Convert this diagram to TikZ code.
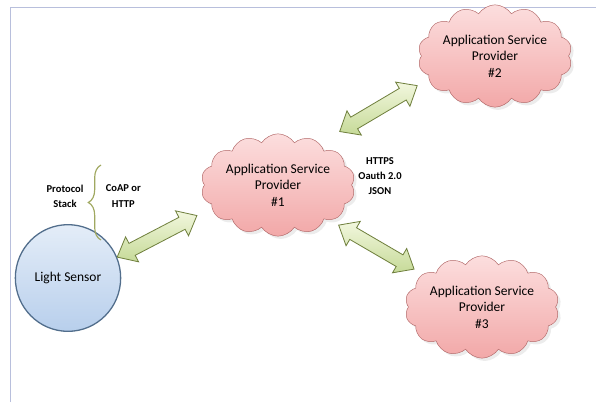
\documentclass[tikz,border=0pt]{standalone}
\usepackage{fontspec}
\setmainfont{Carlito}
\usepackage{tikz}
\usetikzlibrary{shapes.symbols,shapes.geometric,shapes.arrows,decorations.pathreplacing,calc,shadows}

\definecolor{framecol}{RGB}{184,191,220}
\definecolor{cloudtop}{RGB}{252,222,222}
\definecolor{cloudbot}{RGB}{242,168,168}
\definecolor{cloudline}{RGB}{178,104,104}
\definecolor{sensortop}{RGB}{228,237,248}
\definecolor{sensorbot}{RGB}{184,207,236}
\definecolor{sensorline}{RGB}{82,110,140}
\definecolor{arrowtop}{RGB}{242,247,222}
\definecolor{arrowbot}{RGB}{198,218,152}
\definecolor{arrowline}{RGB}{112,128,62}
\definecolor{bracecol}{RGB}{160,168,96}

\tikzset{
	provider/.style={cloud, cloud puffs=14, cloud puff arc=115, aspect=1.7, draw=cloudline,
		top color=cloudtop, bottom color=cloudbot, inner sep=0pt, align=center,
		minimum width=4.2cm, minimum height=2.6cm, drop shadow={opacity=0.15},
		font=\fontsize{11.5}{14}\selectfont},
	sensor/.style={ellipse, draw=sensorline, line width=1.1pt, top color=sensortop,
		bottom color=sensorbot, minimum width=2.9cm, minimum height=3.2cm,
		font=\fontsize{11.5}{14}\selectfont},
	linkarrow/.style={double arrow, draw=arrowline, line width=0.7pt, top color=arrowtop,
		bottom color=arrowbot, inner sep=0pt, text height=0.19cm, text depth=0.19cm,
		double arrow head extend=0.22cm, double arrow tip angle=80},
	tag/.style={align=center, font=\bfseries\fontsize{9}{13}\selectfont}
}

% block arrow between two nodes: from, to, gap at from, gap at to
\newcommand{\joinarrow}[4]{%
	\path let \p1=($(#1)!#3!(#2)$), \p2=($(#2)!#4!(#1)$),
		\n1={atan2(\y2-\y1,\x2-\x1)}, \n2={veclen(\x2-\x1,\y2-\y1)} in
		node[linkarrow, minimum height=\n2, rotate=\n1] at ($(\p1)!0.5!(\p2)$) {};}

\begin{document}
\begin{tikzpicture}
	\useasboundingbox (0,0) rectangle (17.88,12.06);
	% frame
	\draw[framecol, line width=0.8pt] (0.3,0) -- (0.3,11.85) -- (17.88,11.85);

	\node[sensor] (light) at (2.04,3.72) {Light Sensor};
	\node[provider] (asp1) at (8.34,6.51) {Application Service\\Provider\\\#1};
	\node[provider] (asp2) at (14.85,10.38) {Application Service\\Provider\\\#2};
	\node[provider] (asp3) at (14.46,2.85) {Application Service\\Provider\\\#3};

	% protocol stack
	\coordinate (bracelow) at (3.03,4.86);
	\coordinate (bracehigh) at (3.03,7.11);
	\draw[bracecol, line width=1pt, decorate, decoration={brace, amplitude=0.38cm}]
		(bracelow) -- (bracehigh);
	\node[tag] (stack) at (1.95,6.18) {Protocol\\Stack};
	\node[tag] (coap) at (3.7,6.18) {CoAP or\\HTTP};
	\node[tag] (https) at (11.4,6.78) {HTTPS\\Oauth 2.0\\JSON};

	% links
	\joinarrow{light.23}{asp1.199}{0cm}{0.5cm}
	\joinarrow{asp1.45}{asp2.199}{0.7cm}{0.4cm}
	\joinarrow{asp1.-34}{asp3.151}{0.3cm}{0.3cm}
\end{tikzpicture}
\end{document}
